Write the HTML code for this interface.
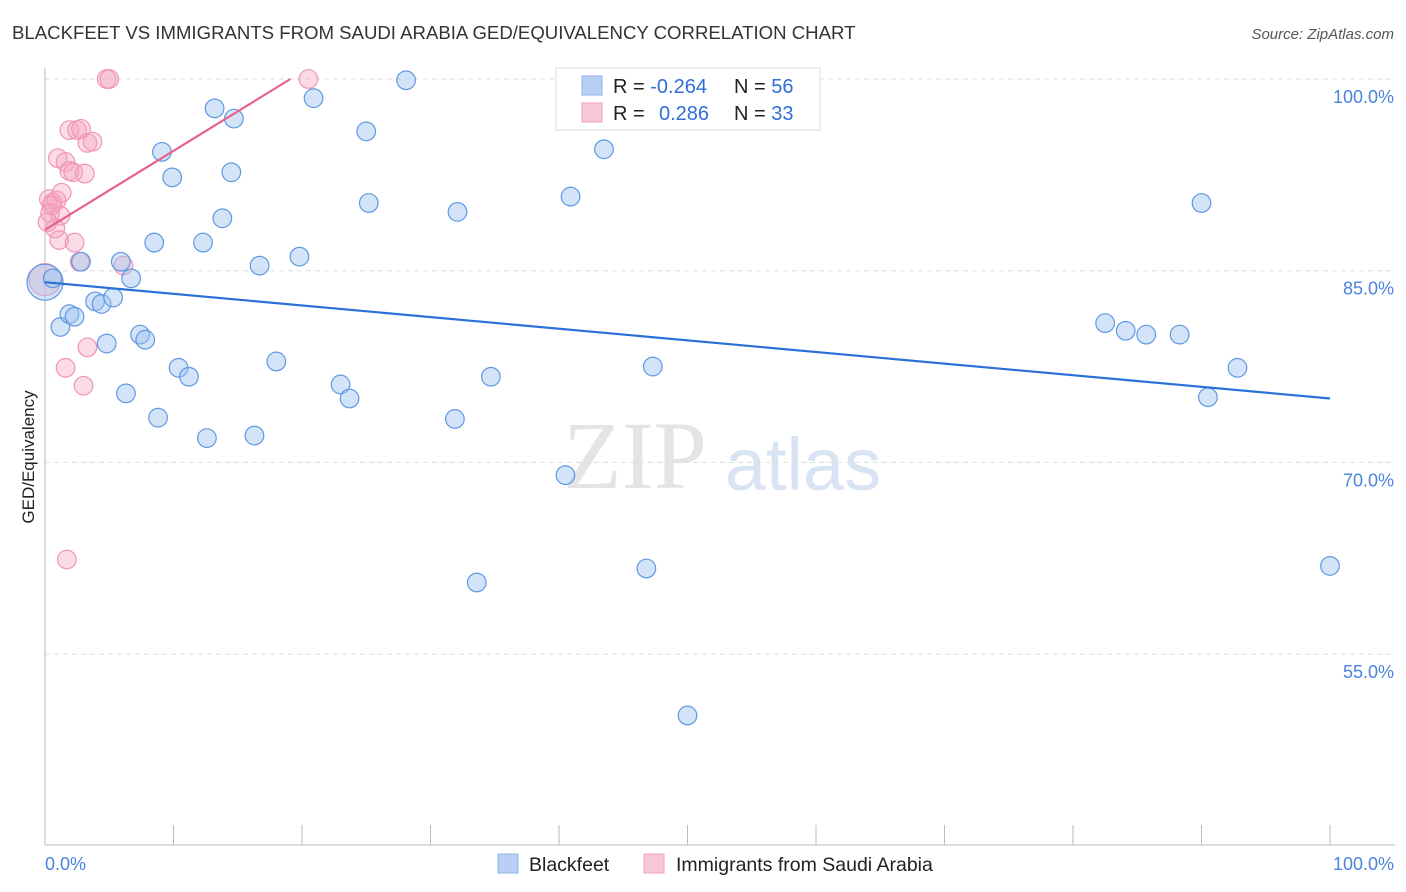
<!DOCTYPE html>
<html><head><meta charset="utf-8"><style>
body{margin:0;background:#fff;font-family:"Liberation Sans",sans-serif;}
svg{display:block}
</style></head><body>
<svg id="chart" width="1406" height="892">
<text x="12" y="39" font-size="18.6" fill="#333">BLACKFEET VS IMMIGRANTS FROM SAUDI ARABIA GED/EQUIVALENCY CORRELATION CHART</text>
<text x="1394" y="39" font-size="15" fill="#555" font-style="italic" text-anchor="end">Source: ZipAtlas.com</text>
<text x="635" y="488" font-size="96" fill="#e4e4e4" font-family="Liberation Serif,serif" text-anchor="middle">ZIP</text>
<text x="803" y="490" font-size="74" fill="#d8e4f4" text-anchor="middle">atlas</text>
<text transform="translate(34,457) rotate(-90)" font-size="17" fill="#222" text-anchor="middle">GED/Equivalency</text>
<g id="grid"></g><g id="axes"></g><g id="pts"></g><g id="lines"></g>
<g>
<rect x="556" y="68" width="264" height="62" fill="#fff" stroke="#ddd"/>
<rect x="582" y="76" width="20" height="19" fill="#b8d0f4" stroke="#8fb4ea"/>
<rect x="582" y="103" width="20" height="19" fill="#f9c6d6" stroke="#f0a2bc"/>
<text x="613" y="93" font-size="20" fill="#222">R = <tspan fill="#2f6fd6">-0.264</tspan></text>
<text x="734" y="93" font-size="20" fill="#222">N = <tspan fill="#2f6fd6">56</tspan></text>
<text x="613" y="120" font-size="20" fill="#222">R = <tspan fill="#2f6fd6" x="659">0.286</tspan></text>
<text x="734" y="120" font-size="20" fill="#222">N = <tspan fill="#2f6fd6">33</tspan></text>
</g>
<g>
<rect x="498" y="854" width="20" height="19" fill="#b8d0f4" stroke="#8fb4ea"/>
<text x="529" y="871" font-size="19.5" fill="#222">Blackfeet</text>
<rect x="644" y="854" width="20" height="19" fill="#f9c6d6" stroke="#f0a2bc"/>
<text x="676" y="871" font-size="19.5" fill="#222">Immigrants from Saudi Arabia</text>
</g>
<text x="45" y="870" font-size="18" fill="#4a84dc">0.0%</text>
<text x="1394" y="870" font-size="18" fill="#4a84dc" text-anchor="end">100.0%</text>
</svg>
<script>
const yTicks=[100,85,70,55];
const blueX=[0,0.6,2.8,5.9,1.2,1.9,2.3,3.9,4.4,5.3,4.8,6.3,6.7,7.4,7.8,8.5,8.8,9.1,9.9,10.4,11.2,12.3,12.6,13.2,13.8,14.5,14.7,16.3,16.7,18.0,19.8,20.9,23.0,23.7,25.0,25.2,28.1,31.9,32.1,33.6,34.7,40.5,40.9,43.5,46.8,47.3,50.0,82.5,84.1,85.7,88.3,90.0,90.5,92.8,100];
const blueY=[84.1,84.4,85.7,85.7,80.6,81.6,81.4,82.6,82.4,82.9,79.3,75.4,84.4,80.0,79.6,87.2,73.5,94.3,92.3,77.4,76.7,87.2,71.9,97.7,89.1,92.7,96.9,72.1,85.4,77.9,86.1,98.5,76.1,75.0,95.9,90.3,99.9,73.4,89.6,60.6,76.7,69.0,90.8,94.5,61.7,77.5,50.2,80.9,80.3,80.0,80.0,90.3,75.1,77.4,61.9];
const pinkX=[4.8,5.0,20.5,1.9,2.5,2.8,3.3,3.7,1.0,1.6,1.9,2.2,3.1,0.3,0.6,0.9,0.5,1.3,0.4,1.2,0.8,1.1,2.3,2.7,6.1,3.3,1.6,3.0,1.7,0.2,0];
const pinkY=[100,100,100,96.0,96.0,96.1,95.0,95.1,93.8,93.5,92.8,92.7,92.6,90.6,90.3,90.5,90.1,91.1,89.5,89.3,88.3,87.4,87.2,85.7,85.4,79.0,77.4,76.0,62.4,88.8,84.3];
const blueTrend=[[0,84.1],[100,75.0]];
const pinkTrend=[[0,88.2],[19.1,100]];
const xs=v=>45+v*12.85, ys=v=>79+(100-v)*12.78;
const NS="http://www.w3.org/2000/svg";
function mk(p,t,a){const e=document.createElementNS(NS,t);for(const k in a)e.setAttribute(k,a[k]);document.getElementById(p).appendChild(e);return e;}
yTicks.forEach(t=>{
 const l=mk('grid','line',{x1:45,x2:1395,y1:ys(t),y2:ys(t),stroke:'#ddd','stroke-dasharray':'5,4'});
 
 
 const tx=mk('grid','text',{x:1394,y:ys(t)+24,'font-size':18,fill:'#4a84dc','text-anchor':'end'});
 tx.textContent=t.toFixed(1)+'%';
 
 
});
let a=mk('axes','line',{x1:45,x2:45,y1:68,y2:845,stroke:'#bbb'});


a=mk('axes','line',{x1:45,x2:1395,y1:845,y2:845,stroke:'#bbb'});


for(let i=0;i<=10;i++){const t=mk('axes','line',{x1:xs(i*10),x2:xs(i*10),y1:825,y2:845,stroke:'#bbb'});
 
 }
function pts(X,Y,fill,stroke,name){X.forEach((x,i)=>{const big=(x===0&&(Y[i]>83.5&&Y[i]<85));
 const c=mk('pts','circle',{cx:xs(x),cy:ys(Y[i]),r:big?(name==='blue-point'?18:16):9.3,fill:fill,stroke:stroke,'stroke-width':1.2});
 
 });}
pts(pinkX,pinkY,'rgba(246,168,193,0.4)','#f095b4','pink-point');
pts(blueX,blueY,'rgba(160,196,240,0.45)','#5f98e2','blue-point');
let l=mk('lines','line',{x1:xs(blueTrend[0][0]),y1:ys(blueTrend[0][1]),x2:xs(blueTrend[1][0]),y2:ys(blueTrend[1][1]),stroke:'#2a70d8','stroke-width':2.2});


l=mk('lines','line',{x1:xs(pinkTrend[0][0]),y1:ys(pinkTrend[0][1]),x2:xs(pinkTrend[1][0]),y2:ys(pinkTrend[1][1]),stroke:'#e8628e','stroke-width':2.2});


</script>
</body></html>
